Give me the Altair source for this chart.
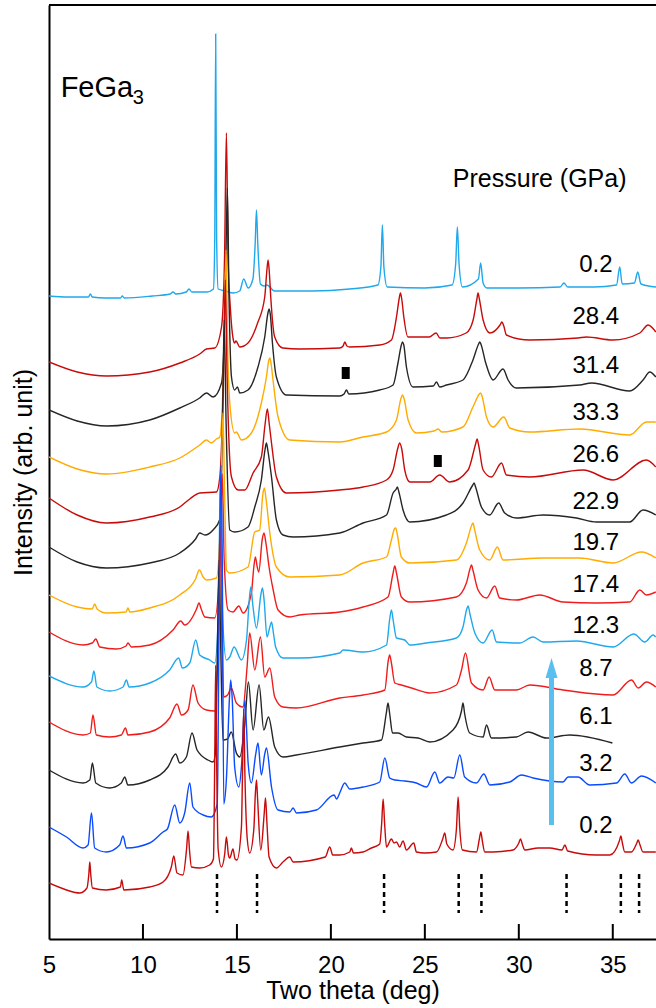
import altair as alt
import pandas as pd

# ---------------- data ----------------
# two-theta (deg), intensity (arb. unit, offsets included)
S01_P02 = [(5.0,643),(6.0,642),(7.1,642),(7.2,645),(7.3,642),(8.0,641),(8.8,641),(8.9,643),(9.0,641),(10.5,643),(11.45,645),(11.6,647),(11.75,645),(12.3,647),(12.45,650),(12.6,647),(13.4,647),(13.75,650),(13.82,700),(13.87,905),(13.92,700),(14.0,650),(14.4,648),(14.8,646),(15.15,648),(15.36,660),(15.6,651),(15.85,660),(15.97,695),(16.04,729),(16.11,695),(16.25,655),(16.45,653),(16.6,654),(17.0,648),(19.0,648),(21.0,650),(22.5,654),(22.66,672),(22.74,714),(22.82,672),(23.0,652),(25.0,651),(26.45,654),(26.64,675),(26.73,712),(26.82,675),(27.0,652),(27.85,660),(27.97,676),(28.1,656),(28.3,651),(30.0,651),(32.2,652),(32.4,656),(32.6,652),(34.0,652),(35.2,654),(35.37,672),(35.5,655),(36.15,656),(36.33,667),(36.5,655),(37.3,652)]
S02_P284 = [(5.0,577),(6.5,567),(8.07,563),(10.36,567),(11.96,576),(13.02,585),(13.38,590),(13.82,591),(14.18,612),(14.34,680),(14.44,806),(14.53,680),(14.65,631),(14.8,600),(14.88,596),(14.95,598),(15.15,592),(15.59,596),(16.1,616),(16.48,642),(16.6,670),(16.66,679),(16.73,665),(16.8,642),(17.01,602),(17.44,591),(18.34,590),(20.47,591),(20.65,593),(20.74,597),(20.85,593),(21.0,592),(22.6,594),(23.22,599),(23.49,622),(23.63,640),(23.7,646),(23.77,640),(23.88,622),(24.1,602),(25.23,602),(25.6,606),(25.8,601),(26.15,601),(27.2,606),(27.57,619),(27.77,640),(27.83,646),(27.9,640),(28.1,619),(28.46,606),(29.0,614),(29.1,617),(29.2,613),(29.34,604),(30.58,599),(33.15,601),(33.6,602),(35.0,599),(36.44,606),(36.88,614),(37.29,607)]
S03_P314 = [(5.0,529),(6.5,518),(8.07,513),(10.36,519),(11.96,531),(13.02,541),(13.38,546),(13.73,542),(14.18,556),(14.38,640),(14.49,751),(14.58,640),(14.71,562),(14.88,549),(15.03,552),(15.15,546),(15.59,549),(16.12,572),(16.48,602),(16.65,626),(16.71,630),(16.78,624),(16.89,596),(17.1,562),(17.63,544),(20.47,543),(20.7,545),(20.83,549),(20.95,545),(22.6,549),(23.31,554),(23.57,576),(23.75,594),(23.81,597),(23.88,594),(24.02,572),(24.37,552),(25.45,553),(25.62,557),(25.79,552),(26.15,554),(27.03,559),(27.56,579),(27.86,595),(27.92,597),(27.98,595),(28.24,576),(28.63,559),(29.16,570),(29.43,559),(29.87,551),(33.24,554),(33.87,556),(35.9,548),(36.61,559),(36.97,567),(37.29,562)]
S04_P333 = [(5.0,482),(6.5,470),(8.07,465),(10.36,472),(11.96,481),(13.02,494),(13.38,499),(13.64,496),(13.91,500),(14.09,502),(14.3,580),(14.42,689),(14.52,580),(14.62,536),(14.88,506),(14.97,507),(15.24,499),(15.77,506),(16.3,536),(16.57,562),(16.7,579),(16.75,581),(16.82,575),(16.92,559),(17.19,522),(17.81,499),(20.47,497),(21.71,502),(22.96,507),(23.49,519),(23.72,540),(23.81,544),(23.9,540),(24.11,519),(24.55,506),(25.5,508),(25.7,510),(25.9,507),(27.03,512),(27.56,532),(27.9,545),(27.96,546),(28.04,543),(28.28,522),(28.63,512),(29.2,522),(29.52,511),(30.58,507),(33.24,510),(35.9,504),(36.79,517),(37.29,517)]
S05_P266 = [(5.0,441),(6.5,424),(8.05,416),(10.36,422),(11.96,432),(12.49,440),(13.02,446),(13.91,447),(14.09,462),(14.28,560),(14.38,659),(14.48,560),(14.62,479),(14.71,462),(15.06,449),(15.42,449),(15.86,466),(16.3,482),(16.5,515),(16.62,530),(16.72,515),(16.84,496),(17.1,462),(17.63,446),(20.47,449),(21.71,452),(22.96,459),(23.31,469),(23.55,490),(23.66,496),(23.77,490),(23.93,469),(24.2,457),(25.26,457),(25.79,464),(26.32,457),(27.3,469),(27.7,495),(27.78,500),(27.86,494),(28.1,469),(28.54,462),(29.08,476),(29.34,464),(30.58,462),(33.42,469),(35.02,459),(36.79,479),(37.29,472)]
S06_P229 = [(5.0,392),(6.5,377),(8.05,371),(10.36,376),(11.96,386),(12.8,400),(13.02,406),(13.3,404),(13.73,409),(14.1,420),(14.24,520),(14.32,619),(14.42,520),(14.62,409),(14.88,407),(15.59,412),(15.95,432),(16.3,459),(16.5,490),(16.57,496),(16.65,488),(16.84,462),(17.1,419),(17.45,404),(17.99,402),(20.47,406),(21.71,416),(22.96,424),(23.31,446),(23.48,450),(23.54,452),(23.62,447),(23.84,429),(24.2,417),(26.15,424),(27.03,436),(27.55,454),(27.62,456),(27.7,452),(28.01,432),(28.45,424),(28.93,436),(29.25,426),(29.87,421),(31.29,424),(33.07,421),(34.13,417),(35.9,417),(36.61,429),(37.29,424)]
S07_P197 = [(5.0,344),(6.5,332),(7.3,330),(7.43,335),(7.56,330),(8.05,326),(9.1,327),(9.2,331),(9.3,327),(10.36,331),(11.96,344),(12.8,360),(13.0,369),(13.2,362),(13.38,359),(13.91,361),(14.15,440),(14.25,526),(14.35,440),(14.44,369),(14.62,366),(15.59,372),(15.95,407),(16.21,409),(16.38,445),(16.46,451),(16.55,440),(16.75,406),(17.1,372),(17.81,362),(20.47,364),(21.71,376),(22.96,382),(23.22,399),(23.38,410),(23.45,411),(23.53,405),(23.75,382),(24.2,376),(26.68,379),(27.21,396),(27.5,414),(27.56,416),(27.64,410),(27.92,389),(28.45,379),(28.86,392),(29.16,379),(31.29,381),(33.24,381),(35.02,376),(36.53,387),(37.29,381)]
S08_P174 = [(5.0,307),(6.81,294),(7.3,296),(7.49,300),(7.7,292),(8.59,290),(9.1,293),(9.2,296),(9.39,292),(10.36,294),(11.6,309),(12.01,318),(12.22,314),(12.85,330),(12.98,336),(13.1,330),(13.29,322),(13.82,321),(14.1,380),(14.22,465),(14.32,380),(14.53,329),(14.79,327),(15.1,333),(15.33,326),(15.77,346),(15.9,372),(15.98,382),(16.08,372),(16.16,367),(16.35,400),(16.44,406),(16.55,395),(16.71,372),(16.92,350),(17.19,329),(17.81,322),(18.34,324),(20.47,327),(21.71,332),(23.04,342),(23.3,365),(23.4,373),(23.5,365),(23.75,342),(24.2,337),(26.68,342),(27.21,356),(27.4,370),(27.48,374),(27.57,368),(27.83,349),(28.28,341),(28.72,353),(28.98,341),(29.87,339),(31.11,344),(32.35,337),(34.13,336),(35.9,337),(36.44,349),(36.79,344),(37.29,347)]
S09_P123 = [(5.0,263),(6.81,252),(7.26,257),(7.39,268),(7.55,252),(8.23,248),(8.94,252),(9.12,259),(9.26,252),(10.36,256),(11.42,269),(11.9,281),(12.1,271),(12.49,276),(12.81,299),(13.02,284),(13.55,279),(13.82,276),(14.02,330),(14.12,467),(14.22,330),(14.44,279),(14.62,282),(14.85,292),(15.24,279),(15.51,299),(15.66,340),(15.74,352),(15.84,335),(16.04,311),(16.28,345),(16.36,351),(16.45,338),(16.6,302),(16.75,312),(16.84,317),(16.95,305),(17.06,292),(17.45,281),(18.34,281),(20.47,286),(20.65,289),(21.71,287),(22.96,294),(23.13,320),(23.22,329),(23.32,318),(23.49,301),(23.93,299),(24.2,294),(25.08,296),(26.68,301),(27.03,312),(27.23,330),(27.3,333),(27.4,325),(27.66,306),(28.1,296),(28.58,309),(28.81,297),(30.05,296),(30.76,302),(31.29,297),(33.07,298),(35.02,292),(36.12,305),(36.7,297),(37.15,304),(37.29,302)]
S10_P87 = [(5.0,217),(6.81,204),(7.2,206),(7.34,224),(7.52,204),(8.23,202),(8.85,204),(9.07,211),(9.2,204),(10.36,207),(11.42,221),(11.81,235),(12.05,224),(12.4,229),(12.66,254),(12.93,236),(13.38,229),(13.82,228),(14.0,300),(14.1,412),(14.2,300),(14.3,242),(14.5,244),(14.7,251),(14.97,236),(15.32,232),(15.54,272),(15.68,306),(15.95,269),(16.25,302),(16.48,262),(16.75,271),(17.01,242),(17.45,232),(18.17,231),(20.47,241),(21.71,244),(22.87,249),(23.05,278),(23.13,284),(23.22,276),(23.4,256),(23.75,254),(24.29,251),(25.26,246),(26.68,254),(26.95,269),(27.16,286),(27.48,256),(28.1,249),(28.42,262),(28.72,249),(29.87,249),(30.58,254),(32.35,249),(35.02,244),(36.0,259),(36.35,251),(36.79,257),(37.29,252)]
S11_P61 = [(5.0,169),(6.81,156),(7.17,159),(7.31,176),(7.49,156),(8.23,151),(8.85,156),(9.03,162),(9.2,154),(10.36,159),(11.33,172),(11.74,185),(11.96,176),(12.31,182),(12.61,206),(12.88,189),(13.46,179),(13.73,177),(13.85,185),(13.97,300),(14.05,379),(14.13,300),(14.26,199),(14.5,200),(14.7,207),(14.97,186),(15.15,182),(15.42,215),(15.61,257),(15.86,209),(16.18,254),(16.43,209),(16.68,222),(17.01,192),(17.45,182),(18.17,184),(20.47,192),(21.71,196),(22.69,199),(22.95,226),(23.04,236),(23.13,225),(23.28,206),(23.57,206),(24.02,202),(24.64,201),(25.26,197),(26.5,209),(26.95,228),(27.03,236),(27.12,225),(27.39,206),(28.1,202),(28.28,214),(28.54,201),(29.87,202),(30.49,207),(31.47,201),(32.71,204),(34.98,196)]
S12_P32 = [(5.0,112),(5.93,102),(6.81,91),(7.08,94),(7.26,126),(7.43,91),(8.05,87),(8.76,94),(8.94,103),(9.12,91),(10.36,96),(11.07,107),(11.3,110),(11.69,134),(11.96,116),(12.22,126),(12.49,156),(12.66,132),(13.2,124),(13.64,122),(13.95,135),(14.08,380),(14.15,474),(14.22,380),(14.3,135),(14.44,160),(14.6,240),(14.67,259),(14.75,240),(14.88,172),(15.1,152),(15.25,175),(15.42,239),(15.6,175),(15.77,156),(16.0,185),(16.12,196),(16.3,164),(16.48,185),(16.57,191),(16.84,152),(17.19,129),(17.81,127),(17.99,131),(18.17,126),(19.23,129),(20.17,144),(20.3,140),(20.47,146),(20.74,156),(21.0,150),(21.71,152),(22.6,157),(22.87,181),(23.13,161),(23.4,159),(23.93,158),(24.55,156),(25.09,152),(25.53,167),(25.79,156),(26.23,162),(26.54,161),(26.86,184),(27.12,162),(27.75,156),(28.14,165),(28.46,154),(29.52,157),(30.14,164),(30.76,161),(32.35,157),(32.62,162),(33.15,162),(33.77,154),(35.2,156),(35.64,165),(35.99,156),(36.53,163),(37.29,156)]
S13_P02 = [(5.0,56),(5.93,49),(6.63,46),(7.02,51),(7.12,65),(7.17,77),(7.22,65),(7.31,51),(8.05,49),(8.8,52),(8.87,59),(8.98,49),(10.36,52),(11.07,57),(11.51,72),(11.64,83),(11.81,66),(12.13,64),(12.32,90),(12.4,108),(12.48,88),(12.58,72),(13.02,71),(13.55,74),(13.75,80),(13.82,180),(13.87,274),(13.92,180),(14.0,90),(14.17,72),(14.35,85),(14.44,102),(14.55,84),(14.62,81),(14.79,90),(14.9,80),(15.0,79),(15.24,112),(15.3,170),(15.36,230),(15.43,160),(15.55,100),(15.68,86),(15.9,110),(15.98,145),(16.04,159),(16.1,140),(16.27,89),(16.45,125),(16.52,141),(16.6,115),(16.71,82),(17.1,71),(17.45,77),(17.81,82),(17.99,77),(19.7,82),(19.94,92),(20.1,84),(20.47,84),(21.0,87),(21.09,91),(21.2,86),(21.71,87),(22.16,91),(22.6,95),(22.7,115),(22.78,140),(22.86,115),(22.96,92),(23.22,100),(23.36,96),(23.49,97),(23.66,92),(23.84,98),(24.02,89),(24.41,96),(24.55,87),(24.99,86),(25.62,87),(25.95,100),(26.06,106),(26.17,95),(26.5,89),(26.68,110),(26.77,142),(26.86,110),(27.0,89),(27.75,87),(27.9,100),(27.98,107),(28.06,98),(28.19,87),(28.63,87),(29.69,89),(30.0,96),(30.09,100),(30.2,94),(30.32,89),(31.02,91),(31.65,91),(32.3,89),(32.45,94),(32.6,88),(34.13,84),(34.84,84),(35.35,98),(35.43,103),(35.5,97),(35.64,87),(35.99,87),(36.28,96),(36.35,99),(36.45,94),(36.61,87),(37.29,87)]

SERIES = [S01_P02, S02_P284, S03_P314, S04_P333, S05_P266, S06_P229, S07_P197,
          S08_P174, S09_P123, S10_P87, S11_P61, S12_P32, S13_P02]
PRESSURES = ["0.2", "28.4", "31.4", "33.3", "26.6", "22.9", "19.7",
             "17.4", "12.3", "8.7", "6.1", "3.2", "0.2"]
LABEL_Y = [667, 615, 566, 519, 477, 430, 389, 347, 306, 263, 215, 168, 106]
LBLUE, DRED, BRED, BLACK, ORANGE, BLUE = "#1fa8ec", "#c80a0a", "#f01c1c", "#262626", "#ffab00", "#0a4bff"
COLORS = [LBLUE, DRED, BLACK, ORANGE, DRED, BLACK, ORANGE, BRED, LBLUE, BRED, BLACK, BLUE, DRED]

REF_PEAKS = [13.94, 16.07, 22.83, 26.80, 28.01, 32.54, 35.43, 36.40]
X_TICKS = [5, 10, 15, 20, 25, 30, 35]
MARKERS_X = [20.79, 25.69]
MARKERS_Y = [566, 478]
ARROW_X = 31.74
ARROW_Y = (114, 264)
ARROW_HEAD_Y = 271

FONT = "Liberation Sans"
XMIN, XMAX = 5, 37.3
YMAX = 934

# ---------------- build table ----------------
rows = []
for i, pts in enumerate(SERIES):
    key = "s%02d" % (i + 1)
    for j, (x, y) in enumerate(pts):
        rows.append({"series": key, "x": x, "y": y, "o": j})
df = pd.DataFrame(rows)
keys = ["s%02d" % (i + 1) for i in range(len(SERIES))]

xs = alt.Scale(domain=[XMIN, XMAX], nice=False, zero=False)
ys = alt.Scale(domain=[0, YMAX], nice=False, zero=False)

x_axis = alt.Axis(values=X_TICKS, format="d", grid=False, ticks=False, tickSize=0,
                  labelFontSize=24, labelFont=FONT, labelColor="black", labelPadding=14,
                  labelFlush=False, domainColor="black", domainWidth=2,
                  title="Two theta (deg)", titleFont=FONT, titleFontSize=25,
                  titleFontWeight="normal", titleColor="black",
                  titleBaseline="alphabetic", titleY=59)
y_axis = alt.Axis(labels=False, ticks=False, grid=False, domainColor="black", domainWidth=2,
                  title="Intensity (arb. unit)", titleFont=FONT, titleFontSize=25,
                  titleFontWeight="normal", titleColor="black",
                  titleBaseline="alphabetic", titleX=-18)

lines = alt.Chart(df).mark_line(strokeWidth=1.4, clip=True, interpolate="monotone").encode(
    x=alt.X("x:Q", scale=xs, axis=x_axis),
    y=alt.Y("y:Q", scale=ys, axis=y_axis),
    color=alt.Color("series:N", scale=alt.Scale(domain=keys, range=COLORS), legend=None),
    order=alt.Order("o:Q"),
)

# frame top line and inward ticks
top_line = alt.Chart(pd.DataFrame({"a": [0]})).mark_rule(color="black", strokeWidth=2).encode(
    x=alt.datum(XMIN), x2=alt.datum(XMAX), y=alt.datum(YMAX))
ticks = alt.Chart(pd.DataFrame({"t": X_TICKS[1:]})).mark_rule(color="black", strokeWidth=2).encode(
    x="t:Q", y=alt.datum(0), y2=alt.datum(15))

# reference peak positions (dashed)
dashes = alt.Chart(pd.DataFrame({"p": REF_PEAKS})).mark_rule(
    color="black", strokeWidth=2.5, strokeDash=[5, 4]).encode(
    x="p:Q", y=alt.datum(65), y2=alt.datum(26))

# pressure labels
lab = alt.Chart(pd.DataFrame({"t": PRESSURES, "y": LABEL_Y})).mark_text(
    font=FONT, fontSize=24, align="center", baseline="alphabetic", color="black").encode(
    x=alt.datum(34.1), y="y:Q", text="t:N")

head = alt.Chart(pd.DataFrame({"a": [0]})).mark_text(
    font=FONT, fontSize=25, align="center", baseline="alphabetic", color="black",
    text="Pressure (GPa)").encode(x=alt.datum(31.11), y=alt.datum(752))

fega = alt.Chart(pd.DataFrame({"a": [0]})).mark_text(
    font=FONT, fontSize=29, align="left", baseline="alphabetic", color="black",
    text="FeGa").encode(x=alt.datum(5.62), y=alt.datum(842))
sub3 = alt.Chart(pd.DataFrame({"a": [0]})).mark_text(
    font=FONT, fontSize=20, align="left", baseline="alphabetic", color="black",
    text="3").encode(x=alt.datum(9.45), y=alt.datum(835))

# small black markers
marks = alt.Chart(pd.DataFrame({"x": MARKERS_X, "y": MARKERS_Y})).mark_point(
    shape="M-0.667,-1H0.667V1H-0.667Z", size=144, filled=True, color="black", opacity=1).encode(
    x="x:Q", y="y:Q")

# pressure arrow
shaft = alt.Chart(pd.DataFrame({"a": [0]})).mark_rule(color="#58bff0", strokeWidth=5).encode(
    x=alt.datum(ARROW_X), y=alt.datum(ARROW_Y[0]), y2=alt.datum(ARROW_Y[1]))
arrow_head = alt.Chart(pd.DataFrame({"a": [0]})).mark_point(
    shape="M0,-1L0.6,1L-0.6,1Z", size=400, filled=True, color="#58bff0", opacity=1).encode(
    x=alt.datum(ARROW_X), y=alt.datum(ARROW_HEAD_Y))

chart = alt.layer(lines, top_line, ticks, dashes, lab, head, fega, sub3, marks, shaft, arrow_head).properties(
    width=607, height=934,
    padding={"left": 49, "top": 5, "right": 0, "bottom": 69},
    autosize=alt.AutoSizeParams(type="none"),
    background="white",
).configure_view(strokeWidth=0)

chart.save("out.html", embed_options={"renderer": "svg", "actions": False})
